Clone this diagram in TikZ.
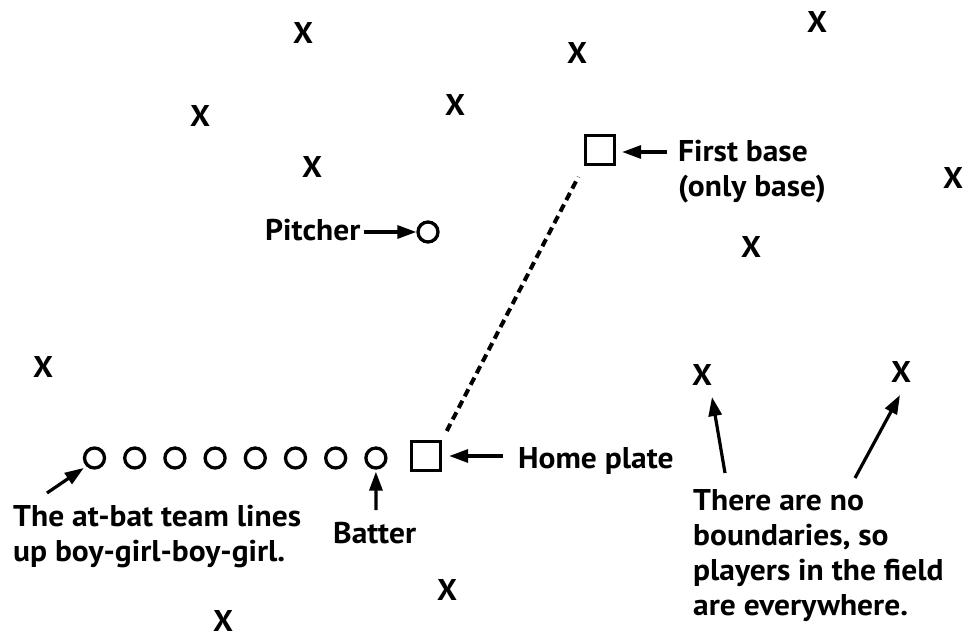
\documentclass[tikz,border=0pt]{standalone}
\usepackage{fontspec}
\setmainfont[FakeStretch=1.05]{PT Sans}
\usetikzlibrary{arrows.meta}

\begin{document}
\begin{tikzpicture}[x=1pt,y=-1pt,
  every node/.style={font=\fontsize{30}{35}\selectfont\bfseries},
  fielder/.style={inner sep=0pt},
  player/.style={circle,draw,line width=3.3pt,minimum size=20pt,inner sep=0pt},
  bag/.style={rectangle,draw,line width=3.3pt,minimum size=29pt,inner sep=0pt},
  % multi-line labels are anchored at the baseline of their last line
  lbl/.style={anchor=base west,inner sep=0pt,align=left},
  pointer/.style={line width=3.2pt,-{Triangle[length=19pt,width=13pt]}},
  baseline path/.style={line width=4pt,dash pattern=on 8pt off 5pt}]

\useasboundingbox (0,0) rectangle (963,637);

% fielders scattered over the field
\node[fielder] (f1)  at (303,33)  {X};
\node[fielder] (f2)  at (577,53)  {X};
\node[fielder] (f3)  at (817,22)  {X};
\node[fielder] (f4)  at (200,116) {X};
\node[fielder] (f5)  at (455,105) {X};
\node[fielder] (f6)  at (312,167) {X};
\node[fielder] (f7)  at (953,178) {X};
\node[fielder] (f8)  at (751,247) {X};
\node[fielder] (f9)  at (43,367)  {X};
\node[fielder] (f10) at (702,375) {X};
\node[fielder] (f11) at (901,372) {X};
\node[fielder] (f12) at (447,590) {X};
\node[fielder] (f13) at (223,621) {X};

% bases
\node[bag] (home)  at (426,456) {};
\node[bag] (first) at (600,150) {};
\draw[baseline path, shorten <=10pt, shorten >=12pt] (home.north east) -- (first.south west);

% pitcher
\node[player] (pitcher) at (428,232) {};
\node[lbl] (pitchtxt) at (265,240) {Pitcher};
\draw[pointer, shorten <=3pt, shorten >=0pt] (pitchtxt.east |- pitcher) -- (pitcher.west);

% batting line-up
\foreach \i in {1,...,8}
  \node[player] (b\i) at ({94.5+40.2*(\i-1)},458) {};

% labels
\node[lbl] (firsttxt) at (678,196) {First base\\(only base)};
\node[lbl] (hometxt)  at (518,468) {Home plate};
\node[lbl] (battxt)   at (333,543) {Batter};
\node[lbl] (teamtxt)  at (13,561)  {The at-bat team lines\\up boy-girl-boy-girl.};
\node[lbl] (notetxt)  at (693,615) {There are no\\boundaries, so\\players in the field\\are everywhere.};

% pointers
\coordinate (firsttail) at (667,152);
\draw[pointer, shorten >=6pt] (firsttail) -- (first.east |- firsttail);
\coordinate (hometail) at (503,456);
\draw[pointer, shorten >=7pt] (hometail) -- (home.east);
\coordinate (battail) at (376,510);
\draw[pointer, shorten >=2pt] (battail) -- (b8.south);
\coordinate (teamtail) at (47,493);
\draw[pointer, shorten >=3pt] (teamtail) -- (b1.south west);
\coordinate (notetailA) at (725,473);
\coordinate (notetipA)  at (712,397);
\draw[pointer] (notetailA) -- (notetipA);
\coordinate (notetailB) at (855,478);
\coordinate (notetipB)  at (900,395);
\draw[pointer] (notetailB) -- (notetipB);

\end{tikzpicture}
\end{document}
